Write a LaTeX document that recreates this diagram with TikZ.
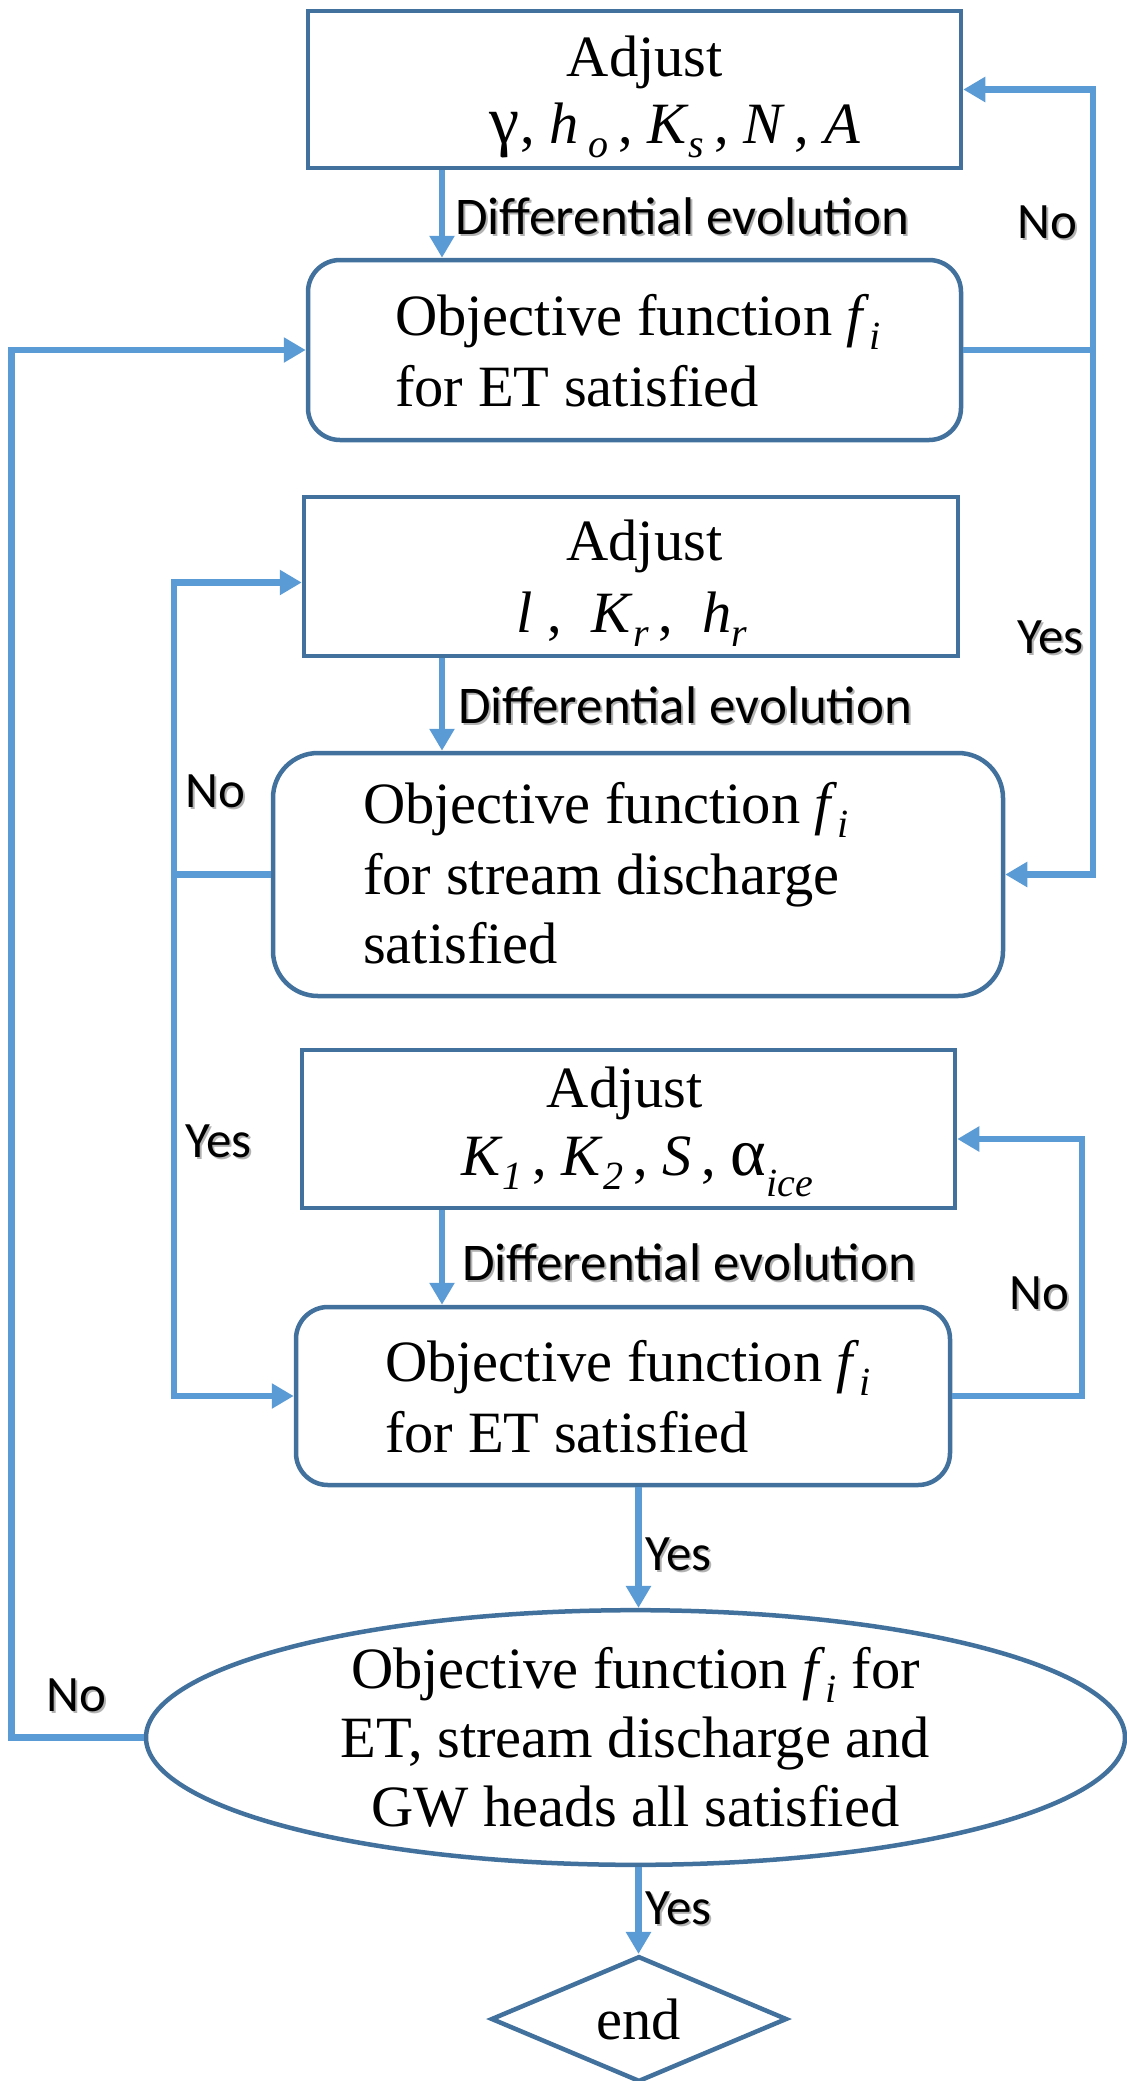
\documentclass[tikz,border=0pt]{standalone}
\usepackage{fontspec}
\setmainfont{Liberation Serif}
\newfontfamily\lblfont{Carlito}
\usetikzlibrary{arrows.meta,shapes.geometric}
\definecolor{connc}{RGB}{91,155,213}
\definecolor{bord}{RGB}{65,113,156}
\newcommand\sbs[1]{\raisebox{-14pt}{\fontsize{40}{40}\selectfont\textit{#1}}}
\newcommand\shd[1]{\leavevmode\rlap{\hspace{2pt}\raisebox{-2pt}{\textcolor{black!30}{#1}}}#1}
\tikzset{
  sqbox/.style={draw=bord, line width=4.5pt, fill=white, rectangle, inner sep=0pt},
  rbox/.style={sqbox, rounded corners=32pt},
  conn/.style={draw=connc, line width=6.5pt, line join=miter, -{Triangle[width=24pt,length=22pt]}},
  lbl/.style={font=\lblfont\fontsize{51}{51}\selectfont, inner sep=0pt},
  delbl/.style={font=\lblfont\fontsize{53}{53}\selectfont, inner sep=0pt},
  txt/.style={font=\fontsize{58.5}{69}\selectfont, inner sep=0pt},
}
\begin{document}
\begin{tikzpicture}[x=1pt,y=-1pt]
\useasboundingbox (0,0) rectangle (1127,2081);
% shapes
\node[sqbox, minimum width=653pt, minimum height=157pt] (b1) at (634.5,89.5) {};
\node[rbox, minimum width=653pt, minimum height=180pt] (b2) at (634.5,350) {};
\node[sqbox, minimum width=654pt, minimum height=159pt] (b3) at (631,576.5) {};
\node[rbox, rounded corners=45pt, minimum width=730pt, minimum height=243pt] (b4) at (638,874.5) {};
\node[sqbox, minimum width=653pt, minimum height=158pt] (b5) at (628.5,1129) {};
\node[rbox, minimum width=654pt, minimum height=178pt] (b6) at (623,1396) {};
\node[ellipse, draw=bord, line width=4.5pt, fill=white, inner sep=0pt,
      minimum width=979pt, minimum height=241pt, align=center,
      font=\fontsize{58.5}{69}\selectfont] (e) at (635.5,1737.5)
  {Objective function \textit{f}\sbs{i} for\\ET, stream discharge and\\GW heads all satisfied};
\node[diamond, draw=bord, line width=4.5pt, fill=white, inner sep=0pt,
      minimum width=296pt, minimum height=120pt,
      font=\fontsize{58.5}{69}\selectfont] (d) at (639,2019) {end};
% box texts
\node[txt, anchor=base] (t1a) at (645,76) {Adjust};
\node[txt, anchor=base] (t1b) at (675,143) {{\fontsize{68}{68}\selectfont γ}, \textit{h}\,\sbs{o}\,, \textit{K}\sbs{s}\,, \textit{N}\,, \textit{A}};
\node[txt, anchor=base west] (t2a) at (395,335) {Objective function \textit{f}\sbs{i}};
\node[txt, anchor=base west] (t2b) at (395,406) {for ET satisfied};
\node[txt, anchor=base] (t3a) at (644.5,560) {Adjust};
\node[txt, anchor=base] (t3b) at (632,632) {\textit{l} ,\ \ \textit{K}\sbs{r}\,,\ \ \textit{h}\sbs{r}};
\node[txt, anchor=base west] (t4a) at (363,823) {Objective function \textit{f}\sbs{i}};
\node[txt, anchor=base west] (t4b) at (363,894) {for stream discharge};
\node[txt, anchor=base west] (t4c) at (363,963) {satisfied};
\node[txt, anchor=base] (t5a) at (625,1107) {Adjust};
\node[txt, anchor=base] (t5b) at (637,1175) {\textit{K}\sbs{1}\,, \textit{K}\sbs{2}\,, \textit{S}\,, {\fontsize{68}{68}\selectfont α}\raisebox{-21pt}{\fontsize{40}{40}\selectfont\textit{ice}}};
\node[txt, anchor=base west] (t6a) at (385,1381) {Objective function \textit{f}\sbs{i}};
\node[txt, anchor=base west] (t6b) at (385,1452) {for ET satisfied};
% helper coordinates
\coordinate (ax) at (442,0);
\coordinate (mx) at (638.5,0);
\coordinate (rx1) at (1093,0);
\coordinate (rx2) at (1082,0);
\coordinate (lx1) at (174,0);
\coordinate (lx0) at (11.5,0);
% connectors
\draw[conn] (b1.south -| ax) -- (b2.north -| ax);
\draw[conn] (b3.south -| ax) -- (b4.north -| ax);
\draw[conn] (b5.south -| ax) -- (b6.north -| ax);
\draw[conn] (b6.south -| mx) -- (e.north -| mx);
\draw[conn] (e.south -| mx) -- (d.north -| mx);
\draw[conn] (b2.east) -- (b2.east -| rx1) |- (b1.east);
\draw[conn] (b2.east -| rx1) |- (b4.east);
\draw[conn] (b4.west) -- (b4.west -| lx1) |- ([yshift=-6pt]b3.west);
\draw[conn] (b4.west -| lx1) |- (b6.west);
\draw[conn] (b6.east) -- (b6.east -| rx2) |- ([yshift=-10pt]b5.east);
\draw[conn] (e.west) -- (e.west -| lx0) |- (b2.west);
% labels
\node[delbl, anchor=base west] (de1) at (455,234) {\shd{Differential evolution}};
\node[delbl, anchor=base west] (de2) at (458,723) {\shd{Differential evolution}};
\node[delbl, anchor=base west] (de3) at (462,1280) {\shd{Differential evolution}};
\node[lbl, anchor=west] (n1) at (1017,223) {\shd{No}};
\node[lbl, anchor=west] (y1) at (1017,638) {\shd{Yes}};
\node[lbl, anchor=west] (n2) at (185,792) {\shd{No}};
\node[lbl, anchor=west] (y2) at (185,1142) {\shd{Yes}};
\node[lbl, anchor=west] (n3) at (1009,1294) {\shd{No}};
\node[lbl, anchor=west] (y3) at (645,1555) {\shd{Yes}};
\node[lbl, anchor=west] (n4) at (46,1696) {\shd{No}};
\node[lbl, anchor=west] (y4) at (645,1909) {\shd{Yes}};
\end{tikzpicture}
\end{document}
